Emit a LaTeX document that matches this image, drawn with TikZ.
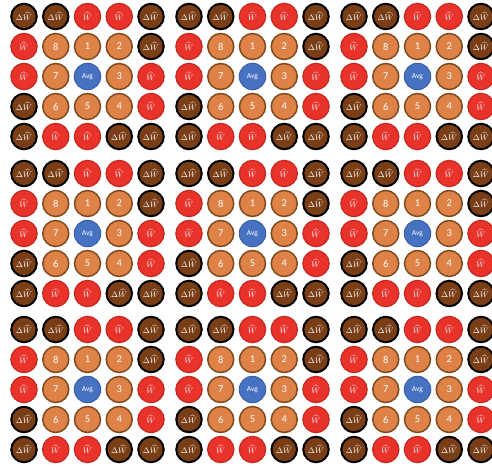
\documentclass[tikz,border=0pt]{standalone}
\usepackage{fontspec}
\setmainfont{Carlito}
\definecolor{dwfill}{HTML}{7A3E17}
\definecolor{whfill}{HTML}{E8322A}
\definecolor{whline}{HTML}{C42820}
\definecolor{numfill}{HTML}{DE8247}
\definecolor{numline}{HTML}{7E4A1E}
\definecolor{avgfill}{HTML}{4771C1}
\definecolor{avgline}{HTML}{3B5FA8}
\newcommand\mydW{$\Delta\widehat{W}$}
\newcommand\myhW{$\widehat{W}$}
\tikzset{
  cell/.style={circle, inner sep=0pt, text=white},
  dw/.style={cell, fill=dwfill, draw=black, line width=2pt, minimum size=25.5pt, font=\fontsize{8.5}{8.5}\selectfont},
  wh/.style={cell, fill=whfill, draw=whline, line width=1.2pt, minimum size=26.3pt, font=\fontsize{8.5}{8.5}\selectfont},
  num/.style={cell, fill=numfill, draw=numline, line width=1.5pt, minimum size=26pt, font=\fontsize{10.5}{10.5}\selectfont},
  avg/.style={cell, fill=avgfill, draw=avgline, line width=1pt, minimum size=26.5pt, font=\fontsize{7.5}{7.5}\selectfont},
}
\begin{document}
\begin{tikzpicture}[x=1pt,y=1pt]
\useasboundingbox (0,0) rectangle (492,-468);
\foreach \bx/\bi in {24/1,189/2,354/3}{
  \foreach \by/\bj in {16.5/1,173.5/2,329.5/3}{
    \foreach \c/\r/\s/\t in {
      1/1/dw/\mydW, 2/1/dw/\mydW, 3/1/wh/\myhW, 4/1/wh/\myhW, 5/1/dw/\mydW,
      1/2/wh/\myhW, 2/2/num/8, 3/2/num/1, 4/2/num/2, 5/2/dw/\mydW,
      1/3/wh/\myhW, 2/3/num/7, 3/3/avg/Avg, 4/3/num/3, 5/3/wh/\myhW,
      1/4/dw/\mydW, 2/4/num/6, 3/4/num/5, 4/4/num/4, 5/4/wh/\myhW,
      1/5/dw/\mydW, 2/5/wh/\myhW, 3/5/wh/\myhW, 4/5/dw/\mydW, 5/5/dw/\mydW}{
      \node[\s] (n\bi\bj-\r\c) at ({\bx+(\c-1)*31.75},{-\by-(\r-1)*30}) {\t};
    }
  }
}
\end{tikzpicture}
\end{document}
